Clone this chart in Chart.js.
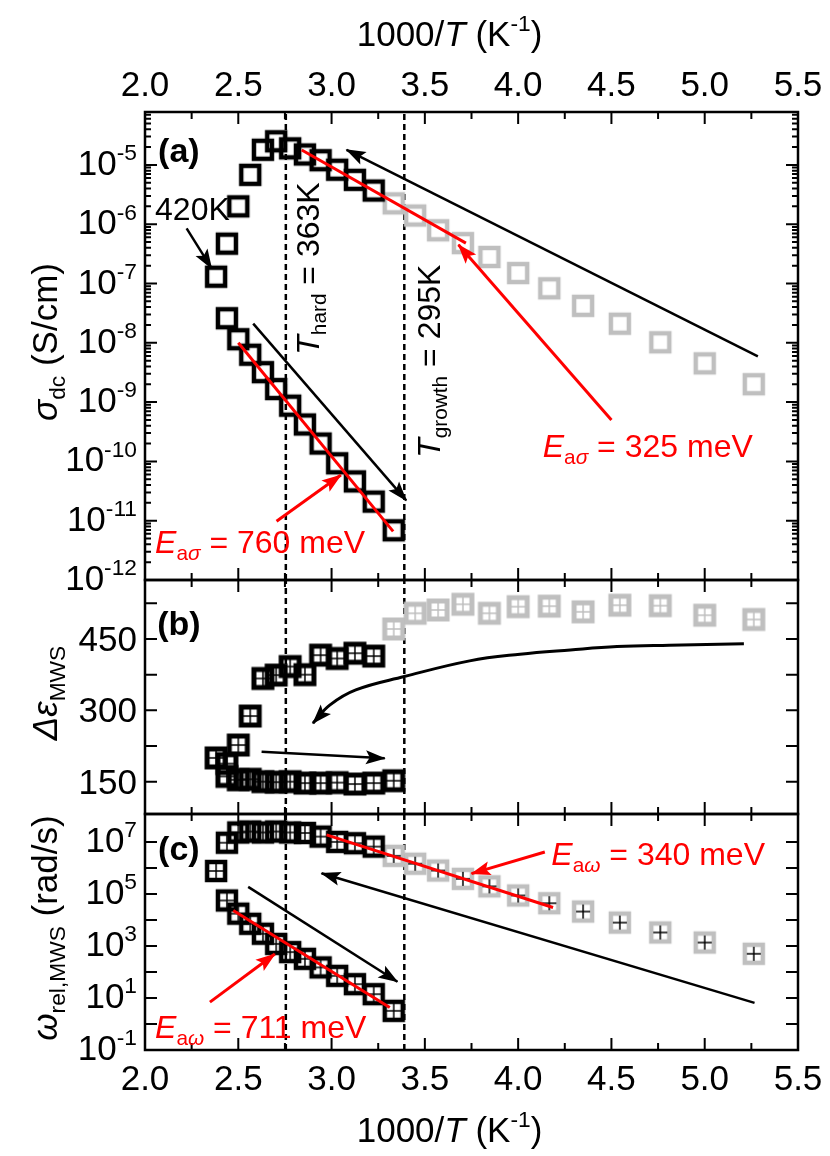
<!DOCTYPE html>
<html>
<head>
<meta charset="utf-8">
<title>sigma / eps / omega vs 1000/T</title>
<script src="https://cdn.jsdelivr.net/npm/chart.js@4.4.1/dist/chart.umd.min.js"></script>
<style>
  html, body { margin: 0; padding: 0; background: #fff; }
  #wrap { position: relative; width: 830px; height: 1156px; }
  #wrap canvas { position: absolute; left: 0; top: 0; }
</style>
</head>
<body>
<div id="wrap">
  <canvas id="panelC" width="830" height="1156"></canvas>
  <canvas id="panelB" width="830" height="1156"></canvas>
  <canvas id="panelA" width="830" height="1156"></canvas>
</div>
<script>
// ---- data ----
// 1000/T of the measured temperatures (K^-1)
const xHigh = [2.381, 2.439, 2.5, 2.564, 2.632, 2.703, 2.778, 2.857, 2.941, 3.03, 3.125, 3.226];
const xCold = [3.333, 3.448, 3.571, 3.704, 3.846, 4.0, 4.167, 4.348, 4.545, 4.762, 5.0, 5.263];
const xLow = [2.439, 2.5, 2.564, 2.632, 2.703, 2.778, 2.857, 2.941, 3.03, 3.125, 3.226, 3.333];

// (a) sigma_dc (S/cm)
const sigmaHigh = [1.3e-7, 4.7e-7, 2.0e-6, 6.8e-6, 1.8e-5, 2.5e-5, 1.9e-5, 1.5e-5, 1.2e-5, 8.3e-6, 5.6e-6, 3.7e-6];
const sigmaCold = [2.25e-6, 1.4e-6, 7.9e-7, 4.8e-7, 2.8e-7, 1.5e-7, 8.3e-8, 4.2e-8, 2.1e-8, 1.02e-8, 4.5e-9, 2.0e-9];
const sigmaLow = [2.6e-8, 1.15e-8, 6.3e-9, 3.2e-9, 1.66e-9, 8.7e-10, 4.2e-10, 2.0e-10, 9.3e-11, 4.6e-11, 2.1e-11, 6.9e-12];

// (b) delta eps_MWS
const epsHigh = [200, 188, 227, 288, 367, 374, 392, 375, 416, 409, 420, 414];
const epsCold = [471, 504, 511, 523, 504, 518, 519, 507, 521, 520, 500, 491];
const epsLow = [161, 154, 155, 150, 149, 150, 147, 147, 148, 145, 147, 152];

// (c) omega_rel,MWS (rad/s)
const omegaHigh = [7.6e5, 9.3e6, 2.3e7, 2.5e7, 2.3e7, 2.5e7, 2.3e7, 2.2e7, 1.6e7, 1.0e7, 8.9e6, 6.6e6];
const omegaCold = [2.9e6, 1.45e6, 7.9e5, 3.8e5, 1.95e5, 8.7e4, 4.4e4, 2.1e4, 7.9e3, 3.3e3, 1.35e3, 5.0e2];
const omegaLow = [5.6e4, 1.74e4, 7.1e3, 2.95e3, 1.2e3, 5.8e2, 3.2e2, 1.5e2, 71, 34, 14, 3.2];

// fit lines and guide arrows, [x, y] pairs (arrow tip = last pair)
const fitSigmaCold = [[2.84, 1.78e-5], [3.72, 4.8e-7]];
const fitSigmaLow = [[2.5, 1.0e-8], [3.33, 6.6e-12]];
const arrowSigma325 = [[4.5, 5.0e-10], [3.68, 4.5e-7]];
const arrowSigma760 = [[2.705, 9.8e-12], [3.05, 5.9e-11]];
const guideSigmaCold = [[5.285, 5.9e-9], [3.08, 1.8e-5]];
const guideSigmaLow = [[2.58, 2.1e-8], [3.40, 2.2e-11]];
const arrow420K = [[2.223, 8.5e-7], [2.357, 1.8e-7]];

const curveEps = [[5.21, 440], [4.81, 437], [4.53, 434], [4.28, 427], [4.01, 418], [3.74, 404],
                  [3.39, 371], [3.13, 343], [2.99, 311], [2.90, 273]];
const guideEpsLow = [[2.625, 213], [3.285, 199]];

const fitOmegaCold = [[2.973, 1.86e7], [4.187, 3.0e4]];
const fitOmegaLow = [[2.473, 2.3e4], [3.312, 4.3]];
const arrowOmega340 = [[4.143, 4.1e6], [3.75, 6.0e5]];
const arrowOmega711 = [[2.348, 6.9], [2.696, 490]];
const guideOmegaLow = [[2.553, 1.86e5], [3.353, 42]];
const guideOmegaCold = [[5.267, 6.5], [2.946, 6.2e5]];

// characteristic temperatures (K)
const tHard = 363;
const tGrowth = 295;

// axis ticks
const xTickLabels = ['2.0', '2.5', '3.0', '3.5', '4.0', '4.5', '5.0', '5.5'];
const sigmaTickExps = [-12, -11, -10, -9, -8, -7, -6, -5];
const epsTicks = [150, 300, 450];
const omegaTickExps = [-1, 1, 3, 5, 7];

// ---- drawing helpers ----
const FONT = "'Liberation Sans', Arial, Helvetica, sans-serif";
const RED = '#ff0000';
const GRAY = '#bfbfbf';

// parts: [text, style] with style letters i = italic, b = bold, _ = subscript, ^ = superscript
function drawRich(ctx, parts, x, y, size, opt = {}) {
    const items = parts.map(([text, style = '']) => {
        const small = style.includes('_') || style.includes('^');
        const fs = small ? size * 0.65 : size;
        const font = (style.includes('i') ? 'italic ' : '') + (style.includes('b') ? 'bold ' : '') + fs + 'px ' + FONT;
        ctx.font = font;
        const dy = style.includes('_') ? size * 0.22 : style.includes('^') ? -size * 0.42 : 0;
        return { text, font, dy, w: ctx.measureText(text).width };
    });
    const total = items.reduce((s, it) => s + it.w, 0);
    ctx.save();
    ctx.translate(x, y);
    if (opt.rotate) ctx.rotate(opt.rotate);
    let cx = opt.align === 'center' ? -total / 2 : opt.align === 'right' ? -total : 0;
    ctx.fillStyle = opt.color || '#000';
    ctx.textAlign = 'left';
    ctx.textBaseline = 'alphabetic';
    items.forEach(it => {
        ctx.font = it.font;
        ctx.fillText(it.text, cx, it.dy);
        cx += it.w;
    });
    ctx.restore();
}

function makeMarker(color, crossColor, lw) {
    const c = document.createElement('canvas');
    c.width = c.height = 28;
    const g = c.getContext('2d');
    g.strokeStyle = color;
    g.lineWidth = lw;
    g.strokeRect(5, 5, 18, 18);
    if (crossColor) {
        g.strokeStyle = crossColor;
        g.lineWidth = 1.5;
        g.beginPath();
        g.moveTo(14, 7); g.lineTo(14, 21);
        g.moveTo(7, 14); g.lineTo(21, 14);
        g.stroke();
    }
    return c;
}

const pts = (xs, ys) => xs.map((x, i) => ({ x, y: ys[i] }));
const pairs = arr => arr.map(([x, y]) => ({ x, y }));

function markers(xs, ys, img) {
    return { data: pts(xs, ys), pointStyle: img, pointRadius: 11, showLine: false, clip: false };
}

function guide(arr, color, width, arrow, extra) {
    return Object.assign({
        data: pairs(arr), showLine: true, pointRadius: 0, borderColor: color,
        borderWidth: width, arrow: arrow, clip: false
    }, extra || {});
}

function tempLines(yMin, yMax) {
    return [tHard, tGrowth].map(T => guide([[1000 / T, yMin], [1000 / T, yMax]], '#000', 2.5, false, { borderDash: [6, 4] }));
}

function drawArrowHeads(chart) {
    const ctx = chart.ctx;
    chart.data.datasets.forEach((ds, i) => {
        if (!ds.arrow) return;
        const els = chart.getDatasetMeta(i).data;
        const tip = els[els.length - 1];
        const prev = els[els.length - 2];
        let fx = prev.x, fy = prev.y;
        if (ds.tension && tip.cp1x !== undefined) { fx = tip.cp1x; fy = tip.cp1y; }
        const ang = Math.atan2(tip.y - fy, tip.x - fx);
        ctx.save();
        ctx.fillStyle = ds.borderColor;
        ctx.translate(tip.x, tip.y);
        ctx.rotate(ang);
        ctx.beginPath();
        ctx.moveTo(1, 0);
        ctx.lineTo(-19, -7);
        ctx.lineTo(-15, 0);
        ctx.lineTo(-19, 7);
        ctx.closePath();
        ctx.fill();
        ctx.restore();
    });
}

function drawFrame(chart, yTicks) {
    const { ctx, chartArea: a, scales: { x, y } } = chart;
    ctx.save();
    ctx.strokeStyle = '#000';
    ctx.lineWidth = 2;
    ctx.beginPath();
    for (let i = 0; i <= 14; i++) {
        const px = x.getPixelForValue(2 + i * 0.25);
        const len = i % 2 === 0 ? 12 : 7;
        ctx.moveTo(px, a.top); ctx.lineTo(px, a.top + len);
        ctx.moveTo(px, a.bottom); ctx.lineTo(px, a.bottom - len);
    }
    yTicks.forEach(([v, len]) => {
        const py = y.getPixelForValue(v);
        ctx.moveTo(a.left, py); ctx.lineTo(a.left + len, py);
        ctx.moveTo(a.right, py); ctx.lineTo(a.right - len, py);
    });
    ctx.stroke();
    ctx.lineWidth = 2.5;
    ctx.strokeRect(a.left, a.top, a.right - a.left, a.bottom - a.top);
    ctx.restore();
}

const xTitle = [['1000/'], ['T', 'i'], [' (K'], ['-1', '^'], [')']];

function drawXAxis(chart, top) {
    const { ctx, chartArea: a, scales: { x } } = chart;
    const base = top ? a.top - 16 : a.bottom + 40;
    xTickLabels.forEach(t => drawRich(ctx, [[t]], x.getPixelForValue(parseFloat(t)), base, 35, { align: 'center' }));
    const titleY = top ? a.top - 66 : a.bottom + 92;
    drawRich(ctx, xTitle, (a.left + a.right) / 2 - 22, titleY, 35, { align: 'center' });
}

function drawYTitle(chart, parts) {
    const a = chart.chartArea;
    drawRich(chart.ctx, parts, a.left - 88, (a.top + a.bottom) / 2 - 4, 35, { align: 'center', rotate: -Math.PI / 2 });
}

// text at a data position of the panel
function note(chart, parts, xv, yv, size, opt) {
    const { ctx, scales: { x, y } } = chart;
    drawRich(ctx, parts, x.getPixelForValue(xv), y.getPixelForValue(yv), size, opt);
}

function logTicks(lo, hi, minor) {
    const out = [];
    for (let e = lo; e <= hi; e++) {
        out.push([Number('1e' + e), 12]);
        if (minor) for (let m = 2; m <= 9; m++) out.push([m * Number('1e' + e), 6]);
    }
    return out;
}

function makePanel(id, yScale, pad, datasets, decorate) {
    return new Chart(document.getElementById(id), {
        type: 'scatter',
        data: { datasets },
        options: {
            responsive: false,
            animation: false,
            events: [],
            layout: { padding: pad },
            plugins: { legend: { display: false }, tooltip: { enabled: false } },
            scales: {
                x: { type: 'linear', min: 2.0, max: 5.5, display: false },
                y: Object.assign({ display: false }, yScale)
            }
        },
        plugins: [{
            id: 'decor' + id,
            afterDatasetsDraw(chart) { drawArrowHeads(chart); },
            afterDraw(chart) { decorate(chart); }
        }]
    });
}

// ---- markers ----
const mkBlack = makeMarker('#000', null, 4.5);
const mkGray = makeMarker(GRAY, null, 4.5);
const mkBlackB = makeMarker('#000', '#000', 5);
const mkGrayB = makeMarker(GRAY, GRAY, 5);
const mkBlackC = makeMarker('#000', '#000', 4.5);
const mkGrayC = makeMarker(GRAY, '#000', 4.5);

// ---- panel (a) ----
const sigmaMin = 1e-12, sigmaMax = 7.8e-5;
makePanel('panelA',
    { type: 'logarithmic', min: sigmaMin, max: sigmaMax },
    { left: 145, right: 32, top: 112, bottom: 576 },
    [
        guide(fitSigmaCold, RED, 3, false),
        guide(fitSigmaLow, RED, 3, false),
        guide(arrowSigma325, RED, 3, true),
        guide(arrowSigma760, RED, 3, true),
        guide(guideSigmaCold, '#000', 2.5, true),
        guide(guideSigmaLow, '#000', 2.5, true),
        guide(arrow420K, '#000', 2.5, true),
        markers(xHigh, sigmaHigh, mkBlack),
        markers(xLow, sigmaLow, mkBlack),
        markers(xCold, sigmaCold, mkGray),
        ...tempLines(sigmaMin, sigmaMax)
    ],
    chart => {
        const { ctx, chartArea: a, scales: { y } } = chart;
        drawFrame(chart, logTicks(-12, -5, true).filter(t => t[0] <= sigmaMax));
        drawXAxis(chart, true);
        sigmaTickExps.forEach(e => drawRich(ctx, [['10'], [String(e), '^']], a.left - 8, y.getPixelForValue(Number('1e' + e)) + 10, 35, { align: 'right' }));
        drawYTitle(chart, [['σ', 'i'], ['dc', '_'], [' (S/cm)']]);
        note(chart, [['(a)', 'b']], 2.07, 1.12e-5, 34);
        note(chart, [['420K']], 2.054, 1.18e-6, 32);
        note(chart, [['T', 'i'], ['hard', '_'], [' = 363K']], 2.932, 6.3e-9, 32, { rotate: -Math.PI / 2 });
        note(chart, [['T', 'i'], ['growth', '_'], [' = 295K']], 3.58, 1.15e-10, 32, { rotate: -Math.PI / 2 });
        note(chart, [['E', 'i'], ['a', '_'], ['σ', 'i_'], [' = 325 meV']], 4.132, 1.2e-10, 32, { color: RED });
        note(chart, [['E', 'i'], ['a', '_'], ['σ', 'i_'], [' = 760 meV']], 2.054, 2.9e-12, 32, { color: RED });
    });

// ---- panel (b) ----
const epsMin = 82, epsMax = 574;
makePanel('panelB',
    { type: 'linear', min: epsMin, max: epsMax },
    { left: 145, right: 32, top: 580, bottom: 342 },
    [
        guide(curveEps, '#000', 3, true, { tension: 0.4 }),
        guide(guideEpsLow, '#000', 2.5, true),
        markers(xHigh, epsHigh, mkBlackB),
        markers(xLow, epsLow, mkBlackB),
        markers(xCold, epsCold, mkGrayB),
        ...tempLines(epsMin, epsMax)
    ],
    chart => {
        const { ctx, chartArea: a, scales: { y } } = chart;
        drawFrame(chart, [150, 225, 300, 375, 450, 525].map(v => [v, 12]));
        epsTicks.forEach(v => drawRich(ctx, [[String(v)]], a.left - 8, y.getPixelForValue(v) + 12, 35, { align: 'right' }));
        drawYTitle(chart, [['Δε', 'i'], ['MWS', '_']]);
        note(chart, [['(b)', 'b']], 2.065, 458, 34);
    });

// ---- panel (c) ----
const omegaMin = 0.1, omegaMax = 1.18e8;
makePanel('panelC',
    { type: 'logarithmic', min: omegaMin, max: omegaMax },
    { left: 145, right: 32, top: 814, bottom: 106 },
    [
        guide(fitOmegaCold, RED, 3, false),
        guide(fitOmegaLow, RED, 3, false),
        guide(arrowOmega340, RED, 3, true),
        guide(arrowOmega711, RED, 3, true),
        guide(guideOmegaLow, '#000', 2.5, true),
        guide(guideOmegaCold, '#000', 2.5, true),
        markers(xHigh, omegaHigh, mkBlackC),
        markers(xLow, omegaLow, mkBlackC),
        markers(xCold, omegaCold, mkGrayC),
        ...tempLines(omegaMin, omegaMax)
    ],
    chart => {
        const { ctx, chartArea: a, scales: { y } } = chart;
        drawFrame(chart, logTicks(-1, 7, false));
        drawXAxis(chart, false);
        omegaTickExps.forEach(e => drawRich(ctx, [['10'], [String(e), '^']], a.left - 8, y.getPixelForValue(Number('1e' + e)) + 10, 35, { align: 'right' }));
        drawYTitle(chart, [['ω', 'i'], ['rel,MWS', '_'], [' (rad/s)']]);
        note(chart, [['(c)', 'b']], 2.07, 2.1e6, 34);
        note(chart, [['E', 'i'], ['a', '_'], ['ω', 'i_'], [' = 340 meV']], 4.178, 1.26e6, 32, { color: RED });
        note(chart, [['E', 'i'], ['a', '_'], ['ω', 'i_'], [' = 711 meV']], 2.054, 0.30, 32, { color: RED });
    });
</script>
</body>
</html>
